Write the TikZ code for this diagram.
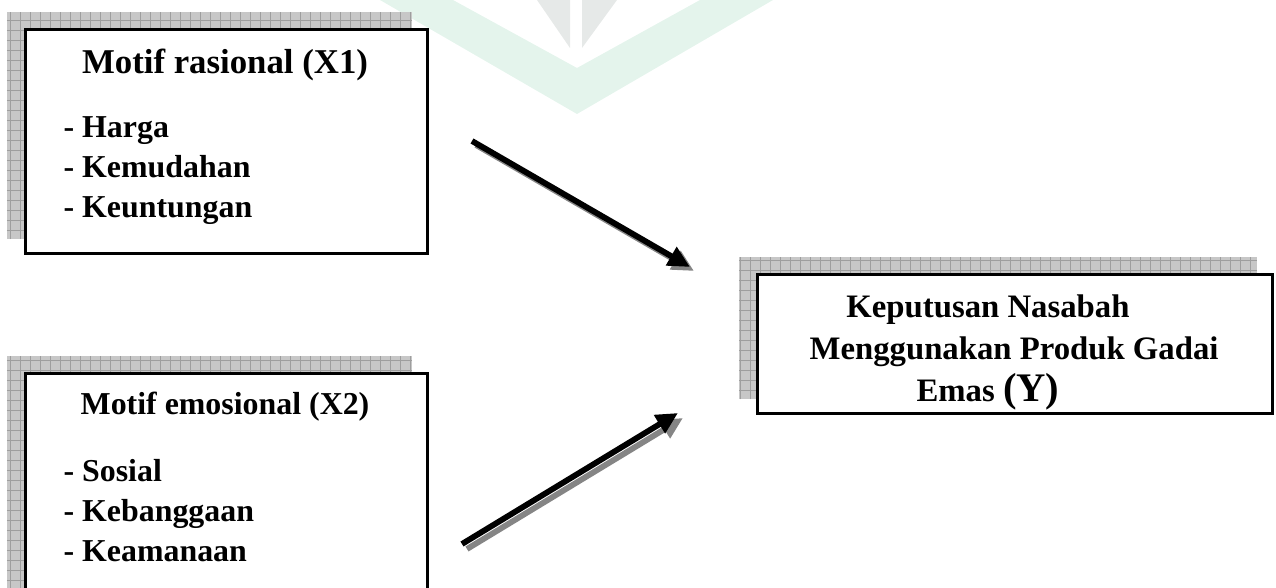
\documentclass[tikz,border=0pt]{standalone}
\usepackage{fontspec}
\setmainfont{Liberation Serif}
\usetikzlibrary{arrows.meta, positioning, backgrounds}

\definecolor{markgreen}{HTML}{E4F4EC}
\definecolor{markgray}{HTML}{E6E9E8}

\begin{document}
\begin{tikzpicture}[
  x=0.345pt, y=-0.345pt,
  every node/.style={font=\fontsize{12pt}{13.8pt}\selectfont\bfseries},
  varbox/.style={draw, line width=1.1pt, fill=white, inner sep=0pt, anchor=north west},
  heading/.style={anchor=base},
  item/.style={anchor=base west, inner sep=0pt, font=\fontsize{11pt}{13.8pt}\selectfont\bfseries},
  boxshadow/.style={fill=black!22},
  shadowgrid/.style={draw=black!38, line width=0.3pt, step=3.45pt},
  arrow/.style={line width=2pt, -{Triangle[length=7.5pt, width=7pt]}},
  arrowshadow/.style={arrow, draw=black!48, fill=black!48}
]
\useasboundingbox (0,0) rectangle (1276,588);

% Variable boxes
\node[varbox, minimum width=138.7pt, minimum height=77.3pt] (rational_box) at (24,28) {};
\node[varbox, minimum width=138.7pt, minimum height=80pt] (emotional_box) at (24,372) {};
\node[varbox, minimum width=177.7pt, minimum height=48pt] (decision_box) at (756,273) {};

% Texts of X1
\node[heading] (rational_title) at (225,74) {Motif rasional (X1)};
\foreach \txt [count=\i] in {Harga, Kemudahan, Keuntungan}
  \node[item] (rational_\i) at (63,98+40*\i) {- \txt};

% Texts of X2
\node[heading, font=\fontsize{11pt}{13.8pt}\selectfont\bfseries] (emotional_title) at (225,415) {Motif emosional (X2)};
\foreach \txt [count=\i] in {Sosial, Kebanggaan, Keamanaan}
  \node[item] (emotional_\i) at (63,442+40*\i) {- \txt};

% Text of Y
\node[align=center, font=\fontsize{11.3pt}{14.5pt}\selectfont\bfseries] (decision_text) at (988,352)
  {Keputusan Nasabah\\\hspace*{18pt}Menggunakan Produk Gadai\\Emas {\fontsize{14pt}{16pt}\selectfont(Y)}};

% Arrows
\coordinate (arrowA_start) at (472,141);
\coordinate (arrowA_end) at (690,267);
\coordinate (arrowB_start) at (462,544);
\coordinate (arrowB_end) at (678,413);

\draw[arrowshadow] ([shift={(4,4)}]arrowA_start) -- ([shift={(4,4)}]arrowA_end);
\draw[arrowshadow] ([shift={(5,5)}]arrowB_start) -- ([shift={(5,5)}]arrowB_end);
\draw[arrow] (arrowA_start) -- (arrowA_end);
\draw[arrow] (arrowB_start) -- (arrowB_end);

\begin{scope}[on background layer]
  % watermark
  \fill[markgreen] (380,0) -- (577,114) -- (773,0) -- (700,0) -- (577,68) -- (453,0) -- cycle;
  \fill[markgray] (537,0) -- (570,0) -- (570,48) -- cycle;
  \fill[markgray] (582,0) -- (617,0) -- (582,48) -- cycle;
  % grid shadows
  \foreach \b in {rational_box, emotional_box, decision_box} {
    \fill[boxshadow] ([shift={(-17,-16)}]\b.south west) rectangle ([shift={(-17,-16)}]\b.north east);
    \draw[shadowgrid] ([shift={(-17,-16)}]\b.south west) grid ([shift={(-17,-16)}]\b.north east);
  }
\end{scope}

\end{tikzpicture}
\end{document}
